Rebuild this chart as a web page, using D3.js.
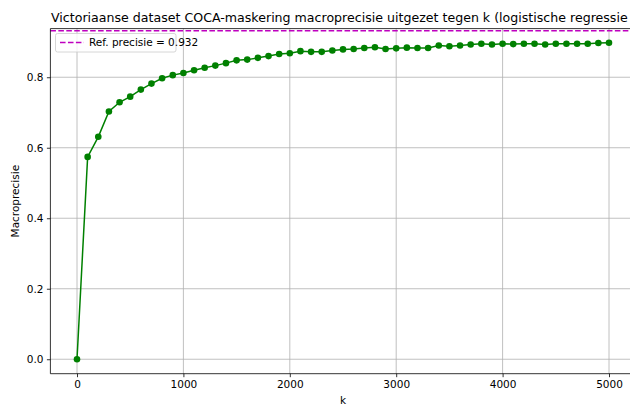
<!DOCTYPE html>
<html>
<head>
<meta charset="utf-8">
<script src="https://cdn.jsdelivr.net/npm/d3@7"></script>
<style>
  html, body { margin: 0; padding: 0; background: #fff; }
  svg { display: block; font-family: "DejaVu Sans", sans-serif; }
</style>
</head>
<body>
<svg id="chart" width="630" height="405"></svg>
<script>
// k values (number of masked words) and the resulting macro precision
const kValues = [0, 100, 200, 300, 400, 500, 600, 700, 800, 900,
  1000, 1100, 1200, 1300, 1400, 1500, 1600, 1700, 1800, 1900,
  2000, 2100, 2200, 2300, 2400, 2500, 2600, 2700, 2800, 2900,
  3000, 3100, 3200, 3300, 3400, 3500, 3600, 3700, 3800, 3900,
  4000, 4100, 4200, 4300, 4400, 4500, 4600, 4700, 4800, 4900, 5000];
const precision = [0.000, 0.574, 0.631, 0.703, 0.729, 0.745, 0.765, 0.782, 0.797, 0.806,
  0.812, 0.820, 0.827, 0.833, 0.840, 0.848, 0.850, 0.855, 0.860, 0.866,
  0.868, 0.874, 0.872, 0.872, 0.876, 0.879, 0.880, 0.883, 0.885, 0.880,
  0.882, 0.884, 0.883, 0.883, 0.890, 0.888, 0.890, 0.893, 0.895, 0.893,
  0.895, 0.894, 0.895, 0.895, 0.893, 0.895, 0.895, 0.895, 0.895, 0.897, 0.898];
const refPrecision = 0.932;
const xTicks = [0, 1000, 2000, 3000, 4000, 5000];
const yTicks = [0.0, 0.2, 0.4, 0.6, 0.8];
const xDomain = [-250, 5250];
const yDomain = [-0.041, 0.938];

const titleText = "Victoriaanse dataset COCA-maskering macroprecisie uitgezet tegen k (logistische regressie";

const svg = d3.select("#chart");
const plot = { left: 50.4, right: 635.6, top: 28.6, bottom: 373.7 };
const fontSize = "10.5px";

const x = d3.scaleLinear().domain(xDomain).range([plot.left, plot.right]);
const y = d3.scaleLinear().domain(yDomain).range([plot.bottom, plot.top]);

// grid
const grid = svg.append("g");
grid.selectAll("line.gx").data(xTicks).join("line")
  .attr("x1", d => x(d)).attr("x2", d => x(d))
  .attr("y1", plot.top).attr("y2", plot.bottom)
  .attr("stroke", "#b0b0b0").attr("stroke-width", 0.8);
grid.selectAll("line.gy").data(yTicks).join("line")
  .attr("x1", plot.left).attr("x2", plot.right)
  .attr("y1", d => y(d)).attr("y2", d => y(d))
  .attr("stroke", "#b0b0b0").attr("stroke-width", 0.8);

// reference line
svg.append("line")
  .attr("x1", plot.left).attr("x2", plot.right)
  .attr("y1", y(refPrecision)).attr("y2", y(refPrecision))
  .attr("stroke", "#bf00bf").attr("stroke-width", 1.5)
  .attr("stroke-dasharray", "5.55,2.4");

// series line + markers
const pts = kValues.map((k, i) => [k, precision[i]]);
svg.append("path")
  .datum(pts)
  .attr("fill", "none")
  .attr("stroke", "#008000")
  .attr("stroke-width", 1.5)
  .attr("d", d3.line().x(d => x(d[0])).y(d => y(d[1])));
svg.append("g").selectAll("circle").data(pts).join("circle")
  .attr("cx", d => x(d[0])).attr("cy", d => y(d[1]))
  .attr("r", 3.3).attr("fill", "#008000");

// axes
const xAxis = d3.axisBottom(x).tickValues(xTicks).tickFormat(d3.format("d"))
  .tickSize(3.5).tickPadding(3.5);
const yAxis = d3.axisLeft(y).tickValues(yTicks).tickFormat(d3.format(".1f"))
  .tickSize(3.5).tickPadding(3.5);

const gx = svg.append("g").attr("transform", `translate(0,${plot.bottom})`).call(xAxis);
const gy = svg.append("g").attr("transform", `translate(${plot.left},0)`).call(yAxis);
[gx, gy].forEach(g => {
  g.select(".domain").remove();
  g.selectAll(".tick line").attr("stroke", "#000").attr("stroke-width", 0.8);
  g.selectAll(".tick text").attr("fill", "#000").style("font-size", fontSize)
    .style("font-family", "DejaVu Sans, sans-serif");
});

// spines
svg.append("line").attr("x1", plot.left).attr("x2", plot.left)
  .attr("y1", plot.top).attr("y2", plot.bottom).attr("stroke", "#000").attr("stroke-width", 0.8);
svg.append("line").attr("x1", plot.left).attr("x2", plot.right)
  .attr("y1", plot.bottom).attr("y2", plot.bottom).attr("stroke", "#000").attr("stroke-width", 0.8);
svg.append("line").attr("x1", plot.left).attr("x2", plot.right)
  .attr("y1", plot.top).attr("y2", plot.top).attr("stroke", "#000").attr("stroke-width", 0.8);
svg.append("line").attr("x1", plot.right).attr("x2", plot.right)
  .attr("y1", plot.top).attr("y2", plot.bottom).attr("stroke", "#000").attr("stroke-width", 0.8);

// axis labels
svg.append("text")
  .attr("x", (plot.left + plot.right) / 2).attr("y", 404)
  .attr("text-anchor", "middle").style("font-size", fontSize).text("k");
svg.append("text")
  .attr("transform", `translate(19,${(plot.top + plot.bottom) / 2}) rotate(-90)`)
  .attr("text-anchor", "middle").style("font-size", fontSize).text("Macroprecisie");

// title
svg.append("text")
  .attr("x", 51).attr("y", 22)
  .attr("text-anchor", "start").style("font-size", "12.6px").text(titleText);

// legend
const leg = svg.append("g");
leg.append("rect")
  .attr("x", 55.5).attr("y", 33.5).attr("width", 120.5).attr("height", 18.5)
  .attr("rx", 2).attr("fill", "#fff").attr("fill-opacity", 0.8)
  .attr("stroke", "#cccccc").attr("stroke-width", 0.8);
leg.append("line")
  .attr("x1", 60).attr("x2", 84).attr("y1", 42.5).attr("y2", 42.5)
  .attr("stroke", "#bf00bf").attr("stroke-width", 1.5)
  .attr("stroke-dasharray", "5.55,2.4");
leg.append("text")
  .attr("x", 89).attr("y", 46.4)
  .style("font-size", fontSize).text(`Ref. precisie = ${refPrecision}`);
</script>
</body>
</html>
